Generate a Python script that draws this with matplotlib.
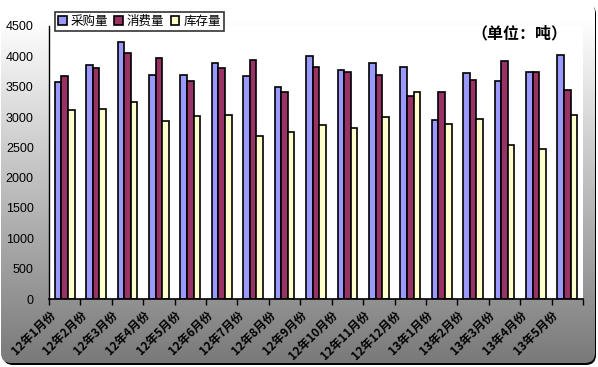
import numpy as np
import matplotlib
matplotlib.use("Agg")
import matplotlib.pyplot as plt
from matplotlib.patches import FancyBboxPatch
import matplotlib.transforms as mtransforms

plt.rcParams['font.family'] = ['Noto Sans CJK SC', 'DejaVu Sans']

# data
months = ['12年1月份', '12年2月份', '12年3月份', '12年4月份', '12年5月份', '12年6月份',
          '12年7月份', '12年8月份', '12年9月份', '12年10月份', '12年11月份', '12年12月份',
          '13年1月份', '13年2月份', '13年3月份', '13年4月份', '13年5月份']
purchase = [3570, 3850, 4230, 3700, 3700, 3885, 3670, 3490, 4000, 3770, 3885, 3820,
            2945, 3720, 3590, 3735, 4030]
consume = [3680, 3800, 4050, 3965, 3590, 3800, 3935, 3405, 3820, 3750, 3690, 3340,
           3405, 3605, 3920, 3735, 3440]
stock = [3110, 3125, 3240, 2930, 3010, 3025, 2680, 2745, 2865, 2815, 2995, 3405,
         2880, 2960, 2535, 2465, 3025]
series_names = ['采购量', '消费量', '库存量']
colors = ['#9999FF', '#993366', '#FFFFCC']

W, H = 598, 367
fig = plt.figure(figsize=(W / 100, H / 100), dpi=100)
fig.patch.set_facecolor('white')

# background panel with vertical gradient and a thin dark shadow
bg = fig.add_axes([0, 0, 1, 1], zorder=0)
shadow = FancyBboxPatch((3, 4), W - 5, H - 6, boxstyle="round,pad=0,rounding_size=10",
                        facecolor='black', edgecolor='none', zorder=0)
bg.add_patch(shadow)
panel = FancyBboxPatch((1, 2), W - 4, H - 6, boxstyle="round,pad=0,rounding_size=10",
                       facecolor='none', edgecolor='none', zorder=1)
bg.add_patch(panel)
grad = np.linspace(0, 1, 256).reshape(-1, 1)
grad = np.clip((grad - 0.05) / 0.95, 0, 1)
img = bg.imshow(grad, cmap=matplotlib.colors.LinearSegmentedColormap.from_list(
    'g', ['#ffffff', '#787878']), extent=(0, W, H, 0), aspect='auto', zorder=2)
img.set_clip_path(panel)
bg.set_xlim(0, W)
bg.set_ylim(H, 0)
bg.axis('off')

# main plot
ax = fig.add_axes([49 / W, 1 - 299 / H, (583 - 49) / W, (299 - 26) / H], zorder=1)
ax.set_facecolor('white')
x = np.arange(len(months))
bw = 0.21
for i, (vals, name, c) in enumerate(zip([purchase, consume, stock], series_names, colors)):
    ax.bar(x + (i - 1) * bw, vals, width=bw, color=c, edgecolor='black',
           linewidth=1.2, label=name)

ax.set_xlim(-0.5, len(months) - 0.5)
ax.set_ylim(0, 4500)
ax.set_yticks(np.arange(0, 4501, 500))
ax.tick_params(axis='y', length=0, pad=11, labelsize=9)
for lab in ax.get_yticklabels():
    lab.set_family(['Liberation Sans', 'DejaVu Sans'])

ax.set_xticks(x)
ax.set_xticks(np.arange(-0.5, len(months), 1), minor=True)
ax.tick_params(axis='x', which='major', length=0, pad=7)
ax.tick_params(axis='x', which='minor', length=4, width=1, direction='out')
ax.set_xticklabels(months, rotation=45, ha='right', va='top', fontsize=8.5,
                   fontweight='bold')
offset = mtransforms.ScaledTranslation(-7 / 100, 0, fig.dpi_scale_trans)
for lab in ax.get_xticklabels():
    lab.set_transform(lab.get_transform() + offset)

for s in ['top', 'right']:
    ax.spines[s].set_visible(False)
ax.spines['left'].set_linewidth(1)
ax.spines['bottom'].set_linewidth(1.2)

leg = ax.legend(loc='upper left', bbox_to_anchor=(6 / 534, 1 + 14 / 273), ncol=3,
                frameon=True, fancybox=False, edgecolor='black', fontsize=9,
                handlelength=0.7, handleheight=0.7, handletextpad=0.3,
                columnspacing=0.5, borderpad=0.25, borderaxespad=0)
leg.get_frame().set_linewidth(1.2)

fig.text(519 / W, 1 - 33 / H, '（单位：吨）', ha='center', va='center',
         fontsize=11.5, fontweight='bold', zorder=3)

fig.savefig('out.png', dpi=100)
